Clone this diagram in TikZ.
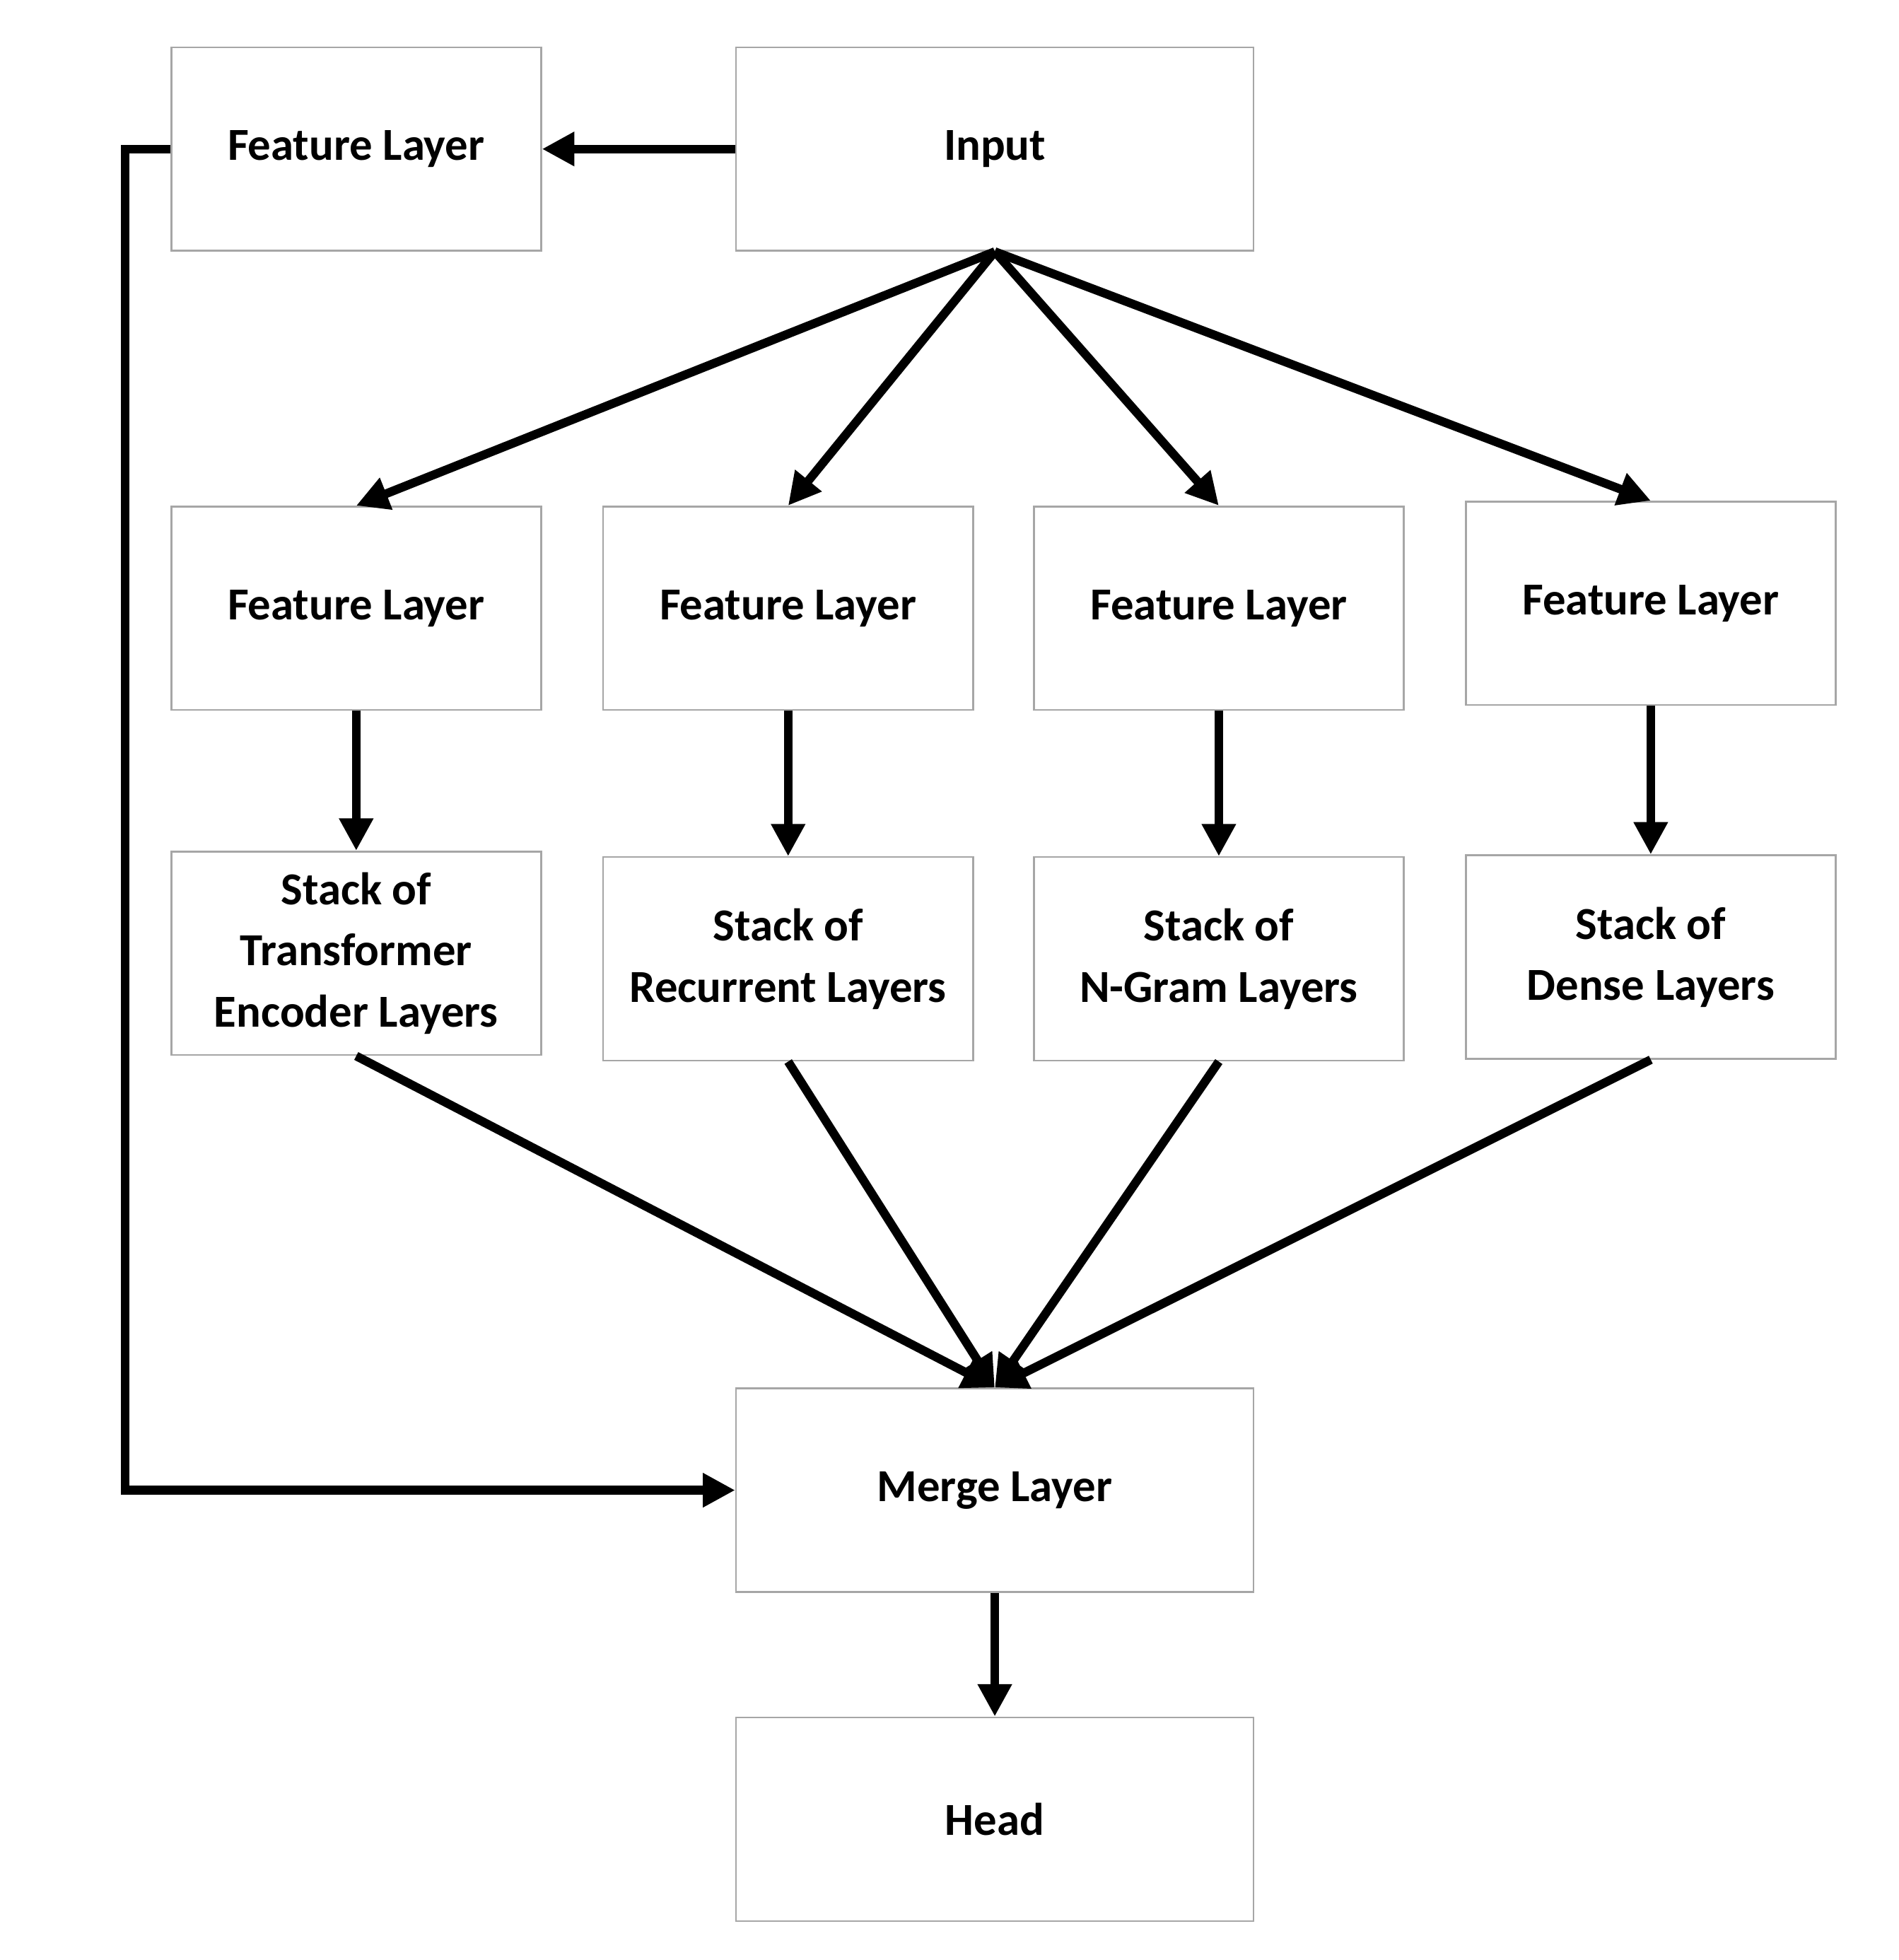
\documentclass[tikz,border=0pt]{standalone}
\usepackage{fontspec}
\setmainfont{Carlito}
\usetikzlibrary{arrows.meta}
\begin{document}
\begin{tikzpicture}[x=0.1mm,y=-0.1mm,
 box/.style={draw=gray!70,line width=0.4pt,rectangle,minimum width=29.8mm,minimum height=16.4mm,align=center,font=\bfseries\fontsize{10.5}{14}\selectfont,inner sep=0pt},
 wide/.style={box,minimum width=41.7mm},
 arr/.style={line width=2pt,-{Triangle[length=2.6mm,width=2.6mm]}}]
\useasboundingbox (0,0) rectangle (1530,1579);
\node[box] (f0) at (287,120) {Feature Layer};
\node[wide] (in) at (801.5,120) {Input};
\node[box] (f1) at (287,490) {Feature Layer};
\node[box] (f2) at (635,490) {Feature Layer};
\node[box] (f3) at (982,490) {Feature Layer};
\node[box] (f4) at (1330,486) {Feature Layer};
\node[box] (s1) at (287,768) {Stack of\\Transformer\\Encoder Layers};
\node[box] (s2) at (635,772.5) {Stack of\\Recurrent Layers};
\node[box] (s3) at (982,772.5) {Stack of\\N-Gram Layers};
\node[box] (s4) at (1330,771) {Stack of\\Dense Layers};
\node[wide] (m) at (801.5,1200.5) {Merge Layer};
\node[wide] (h) at (801.5,1465.5) {Head};
\coordinate (c1) at (101,120);
\coordinate (c2) at (101,1200.5);
\draw[arr] (in) -- (f0);
\foreach \i in {1,2,3,4} {
  \draw[arr] (in.south) -- (f\i.north);
  \draw[arr] (f\i) -- (s\i);
  \draw[arr] (s\i.south) -- (m.north);
}
\draw[arr] (f0.west) -- (c1) -- (c2) -- (m.west);
\draw[arr] (m) -- (h);
\end{tikzpicture}
\end{document}
